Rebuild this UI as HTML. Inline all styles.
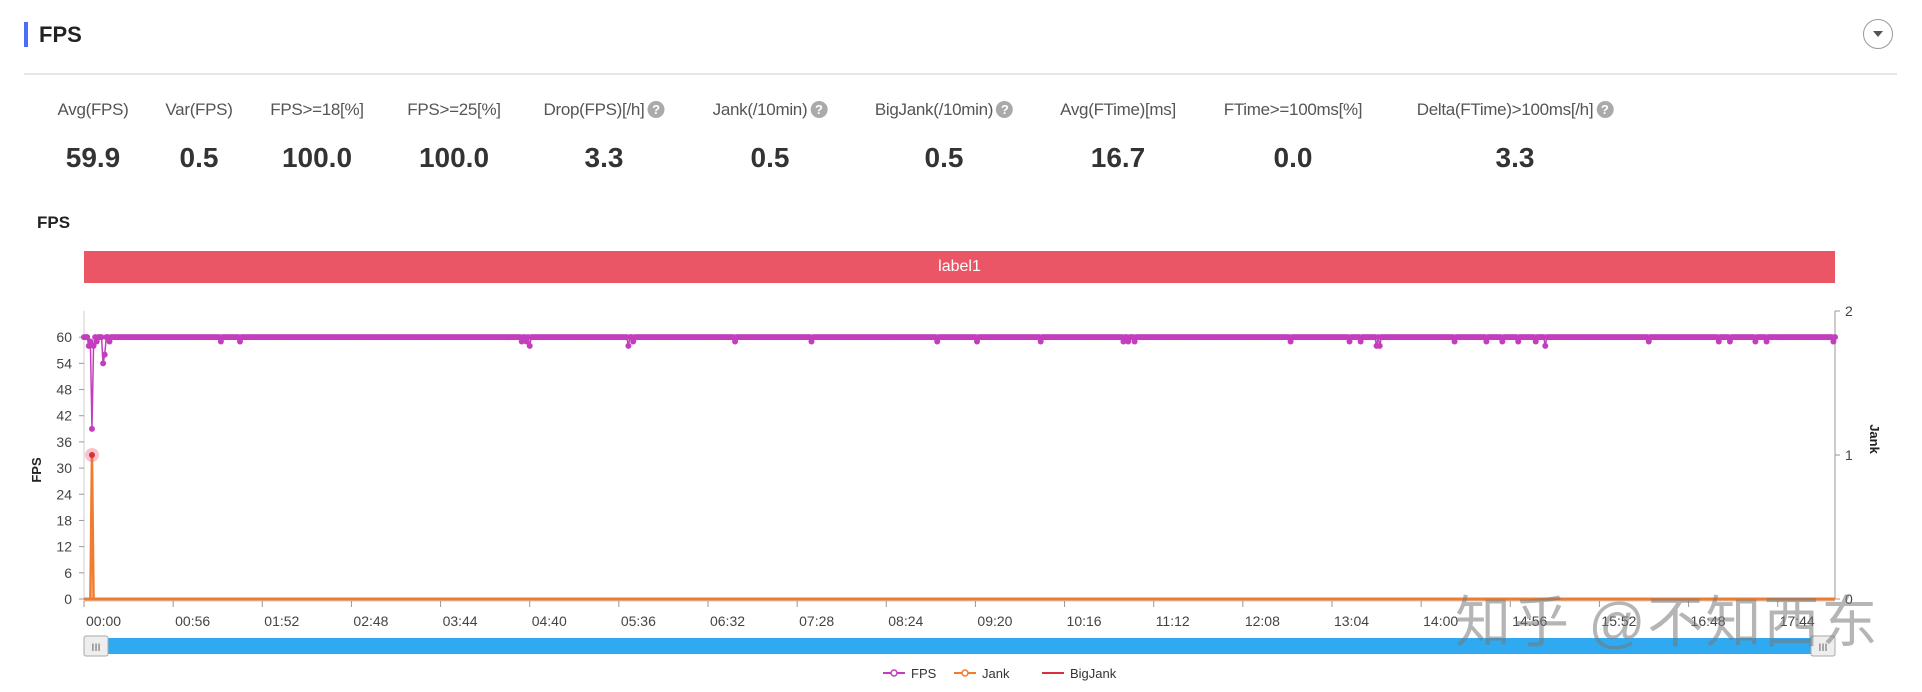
<!DOCTYPE html>
<html><head><meta charset="utf-8"><style>
body{margin:0;width:1922px;height:692px;background:#fff;font-family:"Liberation Sans","Noto Sans CJK SC",sans-serif;overflow:hidden;position:relative}
.abs{position:absolute}
.lab{position:absolute;top:100px;font-size:17px;color:#555;transform:translateX(-50%);white-space:nowrap;letter-spacing:-0.3px}
.val{position:absolute;top:142px;font-size:28px;font-weight:bold;color:#333;transform:translateX(-50%)}
.q{display:inline-block;width:17px;height:17px;border-radius:50%;background:#aaa;color:#fff;font-size:13px;font-weight:bold;text-align:center;line-height:17px;vertical-align:1px;margin-left:3px}
</style></head><body>
<div class="abs" style="left:24px;top:22px;width:4px;height:25px;background:#4a6cf7"></div>
<div class="abs" style="left:39px;top:22px;font-size:22px;font-weight:bold;color:#222">FPS</div>
<div class="abs" style="left:1863px;top:19px;width:30px;height:30px;border:1px solid #999;border-radius:50%;box-sizing:border-box"><div style="position:absolute;left:9px;top:11px;width:0;height:0;border-left:5px solid transparent;border-right:5px solid transparent;border-top:6px solid #555"></div></div>
<div class="abs" style="left:24px;top:73px;width:1873px;height:2px;background:#e6e6e6"></div>

<div class="lab" style="left:93px">Avg(FPS)</div>
<div class="val" style="left:93px">59.9</div>
<div class="lab" style="left:199px">Var(FPS)</div>
<div class="val" style="left:199px">0.5</div>
<div class="lab" style="left:317px">FPS&gt;=18[%]</div>
<div class="val" style="left:317px">100.0</div>
<div class="lab" style="left:454px">FPS&gt;=25[%]</div>
<div class="val" style="left:454px">100.0</div>
<div class="lab" style="left:604px">Drop(FPS)[/h]<span class="q">?</span></div>
<div class="val" style="left:604px">3.3</div>
<div class="lab" style="left:770px">Jank(/10min)<span class="q">?</span></div>
<div class="val" style="left:770px">0.5</div>
<div class="lab" style="left:944px">BigJank(/10min)<span class="q">?</span></div>
<div class="val" style="left:944px">0.5</div>
<div class="lab" style="left:1118px">Avg(FTime)[ms]</div>
<div class="val" style="left:1118px">16.7</div>
<div class="lab" style="left:1293px">FTime&gt;=100ms[%]</div>
<div class="val" style="left:1293px">0.0</div>
<div class="lab" style="left:1515px">Delta(FTime)&gt;100ms[/h]<span class="q">?</span></div>
<div class="val" style="left:1515px">3.3</div>

<div class="abs" style="left:37px;top:213px;font-size:17px;font-weight:bold;color:#222">FPS</div>
<div class="abs" style="left:84px;top:251px;width:1751px;height:32px;background:#eb5666;color:#fff;font-size:16px;text-align:center;line-height:32px">label1</div>

<svg id="chart" class="abs" style="left:0;top:0" width="1922" height="692"></svg>
<div class="abs" style="left:1455px;top:578px;font-size:56px;color:rgba(120,120,120,0.55);letter-spacing:2px;white-space:nowrap">知乎 @不知西东</div>

<script>
const tickLabels=["00:00","00:56","01:52","02:48","03:44","04:40","05:36","06:32","07:28","08:24","09:20","10:16","11:12","12:08","13:04","14:00","14:56","15:52","16:48","17:44"];
const yTicks=[0,6,12,18,24,30,36,42,48,54,60];
const jankTicks=[0,1,2];
const fpsDipTimes=[3,4,5,6,8,12,13,16,86,98,275,278,280,342,345,409,457,536,561,601,653,656,660,758,795,802,812,814,861,881,891,901,912,918,983,1027,1034,1050,1057,1099];
const fpsDipValues=[58,59,39,58,59,54,56,59,59,59,59,59,58,58,59,59,59,59,59,59,59,59,59,59,59,59,58,58,59,59,59,59,59,58,59,59,59,59,59,59];
const jankTimes=[0,4,5,6,1100];
const jankValues=[0,0,1,0,0];
const duration=1100;
const X0=84,X1=1835,Y0=599,YT=311;
const xs=t=>X0+t*(X1-X0)/duration;
const ys=v=>Y0-v*(Y0-YT)/66;
const yj=v=>Y0-v*(Y0-YT)/2;
const svg=document.getElementById('chart');
const NS='http://www.w3.org/2000/svg';
function mk(tag,attrs){const e=document.createElementNS(NS,tag);for(const k in attrs)e.setAttribute(k,attrs[k]);svg.appendChild(e);return e;}
let e=mk('line',{x1:X0,y1:YT,x2:X0,y2:Y0+8,stroke:'#ccc'});


e=mk('line',{x1:X1,y1:YT,x2:X1,y2:Y0,stroke:'#ccc','stroke-width':2});


e=mk('line',{x1:X0,y1:Y0+2,x2:X1,y2:Y0+2,stroke:'#ccc'});


yTicks.forEach(v=>{
  mk('line',{x1:X0-5,y1:ys(v),x2:X0,y2:ys(v),stroke:'#999'});
  const t=mk('text',{x:X0-12,y:ys(v)+5,'text-anchor':'end','font-size':14,fill:'#444'});t.textContent=v;
  
  
});
jankTicks.forEach(v=>{
  mk('line',{x1:X1,y1:yj(v),x2:X1+5,y2:yj(v),stroke:'#999'});
  const t=mk('text',{x:X1+10,y:yj(v)+5,'font-size':14,fill:'#444'});t.textContent=v;
  
  
});
tickLabels.forEach((s,i)=>{
  const x=xs(i*56);
  mk('line',{x1:x,y1:Y0+2,x2:x,y2:Y0+8,stroke:'#999'});
  const t=mk('text',{x:x+2,y:626,'font-size':14,fill:'#444'});t.textContent=s;
  
  
});
let t=mk('text',{x:0,y:0,'font-size':13,'font-weight':'bold',fill:'#222',transform:'translate(41,470) rotate(-90)','text-anchor':'middle'});t.textContent='FPS';


t=mk('text',{x:0,y:0,'font-size':13,'font-weight':'bold',fill:'#222',transform:'translate(1870,439) rotate(90)','text-anchor':'middle'});t.textContent='Jank';


const fps=[];for(let s=0;s<=duration;s++)fps.push(60);
fpsDipTimes.forEach((s,i)=>fps[s]=fpsDipValues[i]);
const fpsPts=fps.map((v,s)=>xs(s)+','+ys(v)).join(' ');
e=mk('polyline',{points:fpsPts,fill:'none',stroke:'#c23ebd','stroke-width':1.5});


fps.forEach((v,s)=>{mk('circle',{cx:xs(s),cy:ys(v),r:3,fill:'#c23ebd'});});
const jp=jankTimes.map((s,i)=>xs(s)+','+yj(jankValues[i])).join(' ');
e=mk('polyline',{points:jp,fill:'none',stroke:'#f07c30','stroke-width':2.5});


jankValues.forEach((v,i)=>{if(v>0){
  mk('circle',{cx:xs(jankTimes[i]),cy:yj(v),r:7,fill:'rgba(235,86,102,0.35)'});
  const c=mk('circle',{cx:xs(jankTimes[i]),cy:yj(v),r:3,fill:'#d9303c'});
  
  
}});
e=mk('line',{x1:X0,y1:Y0,x2:X1,y2:Y0,stroke:'#f07c30','stroke-width':3});


e=mk('rect',{x:X0,y:638,width:X1-X0,height:16,fill:'#2fa9ef'});


[[X0,'zoom-handle-left'],[X1-24,'zoom-handle-right']].forEach(([x,n])=>{
  const h=mk('rect',{x:x,y:636,width:24,height:20,fill:'#eee',stroke:'#aaa',rx:2});
  
  
  const g=mk('text',{x:x+12,y:651,'text-anchor':'middle','font-size':11,fill:'#666'});g.textContent='III';
});
const legendNames=['FPS','Jank','BigJank'];const legendColors=['#c23ebd','#f07c30','#d9303c'];const legendX=[883,954,1042];
legendNames.forEach((n,i)=>{
  const x=legendX[i];
  mk('line',{x1:x,y1:673,x2:x+22,y2:673,stroke:legendColors[i],'stroke-width':2});
  if(i<2)mk('circle',{cx:x+11,cy:673,r:3,fill:'#fff',stroke:legendColors[i],'stroke-width':1.5});
  const tx=mk('text',{x:x+28,y:678,'font-size':13,fill:'#333'});tx.textContent=n;
  
  
});
</script>
</body></html>
